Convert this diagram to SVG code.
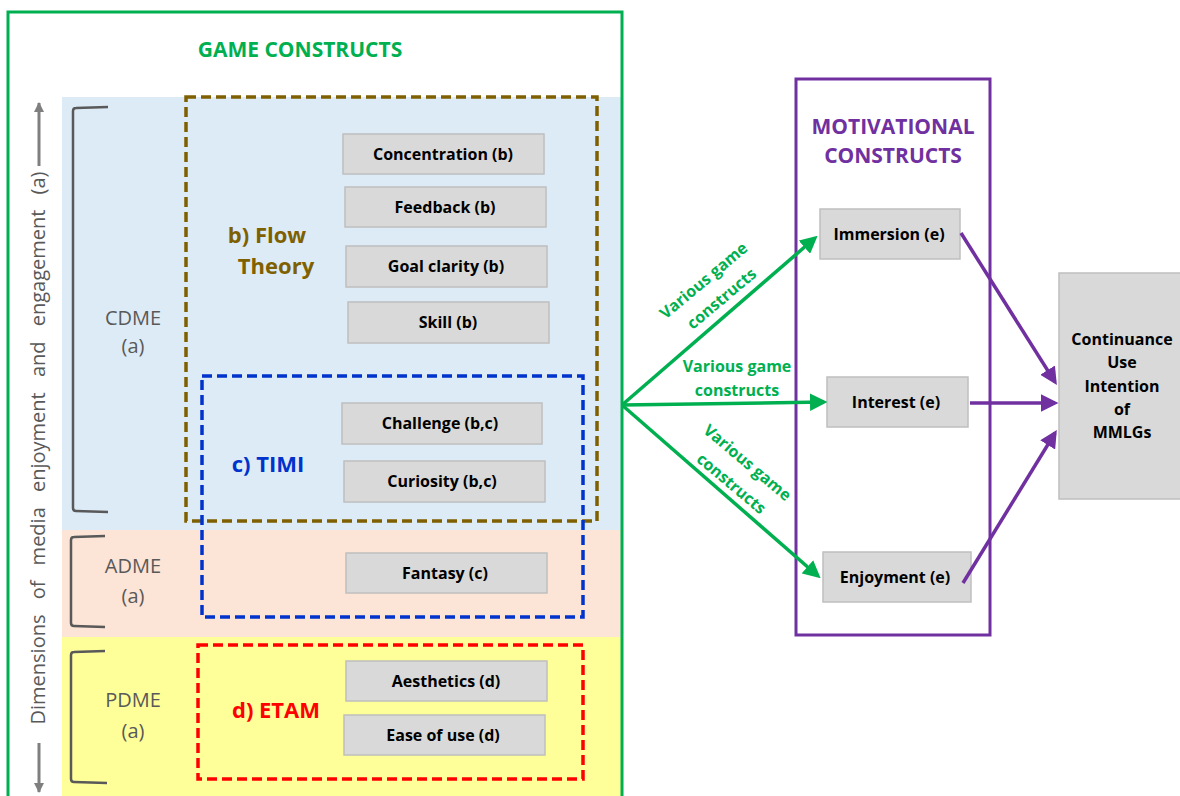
<svg xmlns="http://www.w3.org/2000/svg" width="1180" height="796" viewBox="0 0 1180 796">
<defs>
<style>
.box{fill:#D9D9D9;stroke:#BFBFBF;stroke-width:1.5}
.bt{font-family:"Open Sans","Liberation Sans",sans-serif;font-weight:bold;font-size:16px;fill:#000;text-anchor:middle}
.dim{font-family:"Open Sans","Liberation Sans",sans-serif;font-size:20px;fill:#595959;text-anchor:middle}
.brk{fill:none;stroke:#595959;stroke-width:2.5}
.gl{font-family:"Open Sans","Liberation Sans",sans-serif;font-weight:bold;font-size:16px;fill:#00B050;text-anchor:middle}
.ga{stroke:#00B050;stroke-width:3.5;fill:none;marker-end:url(#ag)}
.pa{stroke:#7030A0;stroke-width:3.5;fill:none;marker-end:url(#ap)}
.ttl{font-family:"Open Sans","Liberation Sans",sans-serif;font-weight:bold;font-size:21px;text-anchor:middle}
.sub{font-family:"Open Sans","Liberation Sans",sans-serif;font-weight:bold;font-size:22px;text-anchor:middle}
.axl{stroke:#7F7F7F;stroke-width:3;fill:none;marker-end:url(#ax)}
</style>
<marker id="ag" markerWidth="5" markerHeight="5" refX="4" refY="2.5" orient="auto" markerUnits="strokeWidth"><path d="M0,0 L5,2.5 L0,5 Z" fill="#00B050"/></marker>
<marker id="ap" markerWidth="5" markerHeight="5" refX="4" refY="2.5" orient="auto" markerUnits="strokeWidth"><path d="M0,0 L5,2.5 L0,5 Z" fill="#7030A0"/></marker>
<marker id="ax" markerWidth="12" markerHeight="12" refX="9" refY="5" orient="auto" markerUnits="userSpaceOnUse"><path d="M0,0 L10,5 L0,10 Z" fill="#7F7F7F"/></marker>
</defs>
<rect width="1180" height="796" fill="#fff"/>
<g id="bands">
<rect x="62" y="97" width="560" height="433" fill="#DDEBF7"/>
<rect x="62" y="530" width="560" height="107" fill="#FCE4D6"/>
<rect x="62" y="637" width="560" height="159" fill="#FFFF99"/>
</g>
<g id="game-constructs">
<rect x="8" y="12" width="614" height="800" fill="none" stroke="#00B050" stroke-width="3"/>
<text class="ttl" x="300" y="57" fill="#00B050">GAME CONSTRUCTS</text>
</g>
<g id="axis">
<line class="axl" x1="39" y1="166" x2="39" y2="103"/>
<line class="axl" x1="39" y1="743" x2="39" y2="792"/>
<text transform="translate(45,448) rotate(-90)" font-family="'Open Sans','Liberation Sans',sans-serif" font-size="20" fill="#595959" text-anchor="middle" word-spacing="10">Dimensions of media enjoyment and engagement (a)</text>
</g>
<g id="cdme">
<path class="brk" d="M108,107 L76,108 Q73,108 73,111 L73,508 Q73,511 76,511 L108,512"/>
<text class="dim" x="133" y="325">CDME</text>
<text class="dim" x="133" y="353">(a)</text>
</g>
<g id="adme">
<path class="brk" d="M105,536 L74,537 Q71,537 71,540 L71,623 Q71,626 74,626 L105,627"/>
<text class="dim" x="133" y="573">ADME</text>
<text class="dim" x="133" y="603">(a)</text>
</g>
<g id="pdme">
<path class="brk" d="M105,651 L74,652 Q71,652 71,655 L71,779 Q71,782 74,782 L107,783"/>
<text class="dim" x="133" y="707">PDME</text>
<text class="dim" x="133" y="738">(a)</text>
</g>
<g id="flow-theory">
<rect x="186" y="97" width="411" height="424" fill="none" stroke="#7F6000" stroke-width="3.5" stroke-dasharray="10 5"/>
<text class="sub" x="267" y="243" fill="#7F6000">b) Flow</text>
<text class="sub" x="276" y="274" fill="#7F6000">Theory</text>
</g>
<g id="timi">
<rect x="202" y="376" width="381" height="241" fill="none" stroke="#0033CC" stroke-width="3.5" stroke-dasharray="10 5"/>
<text class="sub" x="268" y="472" fill="#0033CC">c) TIMI</text>
</g>
<g id="etam">
<rect x="198" y="645" width="385" height="134" fill="none" stroke="#FF0000" stroke-width="3.5" stroke-dasharray="10 5"/>
<text class="sub" x="276" y="718" fill="#FF0000">d) ETAM</text>
</g>
<g id="concentration"><rect class="box" x="343" y="134" width="201" height="40"/><text class="bt" x="443" y="160">Concentration (b)</text></g>
<g id="feedback"><rect class="box" x="345" y="187" width="201" height="40"/><text class="bt" x="445" y="213">Feedback (b)</text></g>
<g id="goal-clarity"><rect class="box" x="346" y="246" width="201" height="41"/><text class="bt" x="446" y="272">Goal clarity  (b)</text></g>
<g id="skill"><rect class="box" x="348" y="302" width="201" height="41"/><text class="bt" x="448" y="328">Skill (b)</text></g>
<g id="challenge"><rect class="box" x="342" y="403" width="200" height="41"/><text class="bt" x="440" y="429">Challenge (b,c)</text></g>
<g id="curiosity"><rect class="box" x="344" y="461" width="201" height="41"/><text class="bt" x="442" y="487">Curiosity (b,c)</text></g>
<g id="fantasy"><rect class="box" x="346" y="553" width="201" height="40"/><text class="bt" x="445" y="579">Fantasy (c)</text></g>
<g id="aesthetics"><rect class="box" x="346" y="661" width="201" height="40"/><text class="bt" x="446" y="687">Aesthetics (d)</text></g>
<g id="ease-of-use"><rect class="box" x="344" y="715" width="201" height="40"/><text class="bt" x="443" y="741">Ease of use (d)</text></g>
<g id="motivational-constructs">
<rect x="796" y="79" width="194" height="556" fill="none" stroke="#7030A0" stroke-width="3"/>
<text class="ttl" x="893" y="134" fill="#7030A0">MOTIVATIONAL</text>
<text class="ttl" x="893" y="163" fill="#7030A0">CONSTRUCTS</text>
</g>
<g id="immersion"><rect class="box" x="820" y="209" width="140" height="50"/><text class="bt" x="889" y="240">Immersion (e)</text></g>
<g id="interest"><rect class="box" x="827" y="377" width="141" height="50"/><text class="bt" x="896" y="408">Interest  (e)</text></g>
<g id="enjoyment"><rect class="box" x="823" y="552" width="148" height="50"/><text class="bt" x="895" y="583">Enjoyment  (e)</text></g>
<g id="continuance">
<rect class="box" x="1059" y="273" width="124" height="226"/>
<text class="bt" x="1122" y="345">Continuance</text>
<text class="bt" x="1122" y="368">Use</text>
<text class="bt" x="1122" y="392">Intention</text>
<text class="bt" x="1122" y="415">of</text>
<text class="bt" x="1122" y="438">MMLGs</text>
</g>
<g id="connectors">
<line class="ga" x1="622" y1="405" x2="815" y2="238"/>
<line class="ga" x1="622" y1="405" x2="824" y2="402"/>
<line class="ga" x1="622" y1="405" x2="818" y2="576"/>
<line class="pa" x1="961" y1="233" x2="1055" y2="382"/>
<line class="pa" x1="970" y1="403" x2="1055" y2="403"/>
<line class="pa" x1="963" y1="583" x2="1055" y2="433"/>
<text class="gl" transform="translate(704,281) rotate(-40)" dy="5">Various game</text>
<text class="gl" transform="translate(722,299) rotate(-40)" dy="5">constructs</text>
<text class="gl" x="737" y="372">Various game</text>
<text class="gl" x="737" y="396">constructs</text>
<text class="gl" transform="translate(747,463) rotate(40)" dy="5">Various game</text>
<text class="gl" transform="translate(731,484) rotate(40)" dy="5">constructs</text>
</g>
</svg>
